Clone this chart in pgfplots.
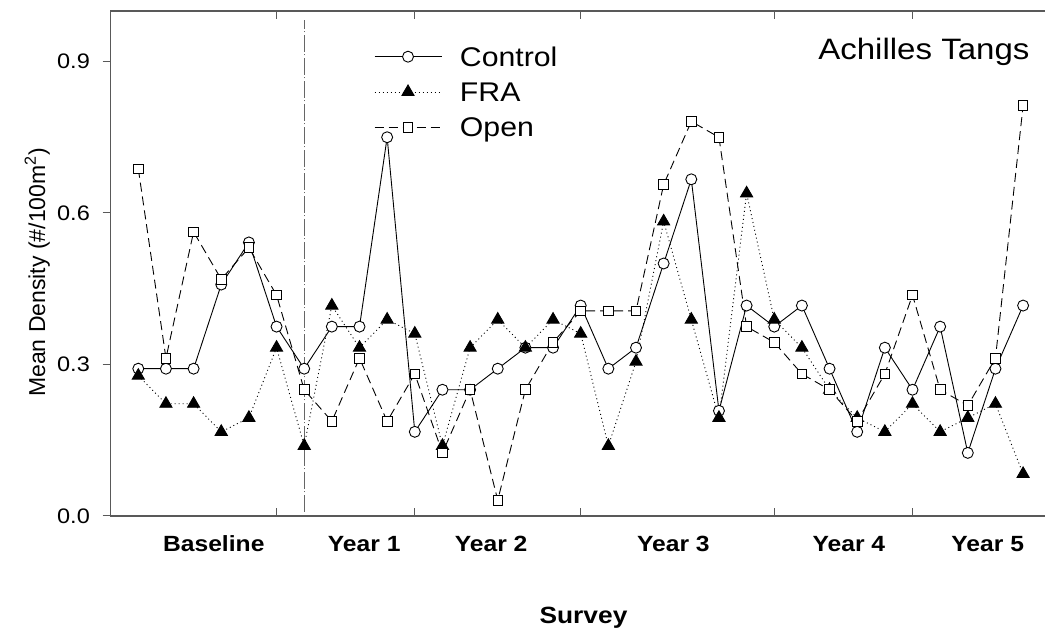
\documentclass[border=0pt]{standalone}
\usepackage{pgfplots}
\pgfplotsset{compat=1.18}
\usepackage{pgfplotstable}
\usepackage{fontspec}
\setmainfont[FakeStretch=1.12]{Liberation Sans}
\newfontfamily\plainsans{Liberation Sans}

% mean density per survey (index 0..32)
\pgfplotstableread{
idx control fra open
0  0.2917 0.2778 0.6875
1  0.2917 0.2222 0.3125
2  0.2917 0.2222 0.5625
3  0.4583 0.1667 0.4688
4  0.5417 0.1944 0.5313
5  0.3750 0.3333 0.4375
6  0.2917 0.1389 0.2500
7  0.3750 0.4167 0.1875
8  0.3750 0.3333 0.3125
9  0.7500 0.3889 0.1875
10 0.1667 0.3611 0.2813
11 0.2500 0.1389 0.1250
12 0.2500 0.3333 0.2500
13 0.2917 0.3889 0.0313
14 0.3333 0.3333 0.2500
15 0.3333 0.3889 0.3438
16 0.4167 0.3611 0.4063
17 0.2917 0.1389 0.4063
18 0.3333 0.3056 0.4063
19 0.5000 0.5833 0.6563
20 0.6667 0.3889 0.7813
21 0.2083 0.1944 0.7500
22 0.4167 0.6389 0.3750
23 0.3750 0.3889 0.3438
24 0.4167 0.3333 0.2813
25 0.2917 0.2500 0.2500
26 0.1667 0.1944 0.1875
27 0.3333 0.1667 0.2813
28 0.2500 0.2222 0.4375
29 0.3750 0.1667 0.2500
30 0.1250 0.1944 0.2188
31 0.2917 0.2222 0.3125
32 0.4167 0.0833 0.8125
}\survey

\begin{document}
\begin{tikzpicture}
\useasboundingbox (0,0) rectangle (1045pt,635pt);
\begin{axis}[
    at={(110.65pt,119pt)}, anchor=south west,
    scale only axis, width=940.1pt, height=505pt,
    xmin=-1, xmax=33, ymin=0, ymax=1,
    clip=false,
    axis line style={black!65, line width=1.3pt},
    every tick/.style={black!65, line width=1pt},
    major tick length=8pt,
    xtick={5,10,16,23,28}, xticklabels={},
    xtick pos=both, xtick align=inside,
    ytick={0,0.3,0.6,0.9}, ytick pos=left, ytick align=outside,
    yticklabel style={font=\fontsize{21pt}{25pt}\selectfont, anchor=east, inner sep=0pt, xshift=-12.6pt,
        /pgf/number format/.cd, fixed, fixed zerofill, precision=1, assume math mode=true},
    legend style={draw=none, fill=none, at={(rel axis cs:0.2802,0.9415)}, anchor=north west,
        inner sep=0pt, outer sep=0pt, row sep=3pt, column sep=18pt,
        nodes={inner sep=0pt, text height=25.7pt, text depth=6.6pt},
        font=\fontsize{27pt}{31pt}\selectfont},
    legend cell align=left,
    legend image code/.code={\draw[mark repeat=2, mark phase=2, #1] plot coordinates {(0pt,0pt) (33.5pt,0pt) (67pt,0pt)};},
]
\addplot[forget plot, black!60, line width=0.8pt, dash pattern=on 17pt off 2.5pt on 1pt off 2.5pt]
    coordinates {(6,0.008) (6,0.982)};
\addplot[black, line width=0.9pt, mark=*, mark size=5.5pt, mark options={solid, fill=white, draw=black}]
    table[x=idx, y=control]{\survey};
\addplot[black, line width=0.9pt, dash pattern=on 1pt off 3pt, mark=triangle*, mark size=7pt, mark options={solid, fill=black}]
    table[x=idx, y=fra]{\survey};
\addplot[black, line width=0.9pt, dash pattern=on 9pt off 5pt, mark=square*, mark size=4.8pt, mark options={solid, fill=white, draw=black}]
    table[x=idx, y=open]{\survey};
\legend{Control, FRA, Open}

\begin{scope}[every node/.style={anchor=base, font=\bfseries\fontsize{22pt}{26pt}\selectfont, yshift=-35.7pt}]
\node at (axis cs:2.73,0) {Baseline};
\node at (axis cs:8.17,0) {Year 1};
\node at (axis cs:12.76,0) {Year 2};
\node at (axis cs:19.35,0) {Year 3};
\node at (axis cs:25.70,0) {Year 4};
\node at (axis cs:30.72,0) {Year 5};
\end{scope}
\end{axis}
\node[anchor=base east, font=\fontsize{29.5pt}{34pt}\selectfont] at (1033pt,575pt) {Achilles Tangs};
\node[anchor=base, font=\bfseries\fontsize{23.5pt}{28pt}\selectfont] at (583.5pt,11.7pt) {Survey};
\node[rotate=90, anchor=base, font=\plainsans\fontsize{23pt}{27pt}\selectfont] at (45pt,362.5pt) {Mean Density (\#/100m\textsuperscript{2})};
\end{tikzpicture}
\end{document}
